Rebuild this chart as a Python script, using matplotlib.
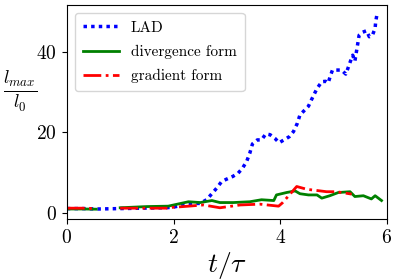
import numpy as np
import matplotlib
matplotlib.use("Agg")
import matplotlib.pyplot as plt

plt.rcParams['font.family'] = 'serif'
plt.rcParams['font.serif'] = ['cmr10']
plt.rcParams['mathtext.fontset'] = 'cm'
plt.rcParams['axes.formatter.use_mathtext'] = True

nan = np.nan
lad_t = [0.0, 0.3, 0.6, 1.0, 1.4, 1.8, 1.98, 2.28, 2.5, 2.62, 2.81, 2.90, 2.99, 3.11, 3.21,
         3.29, 3.37, 3.43, 3.48, 3.57, 3.65, 3.73, 3.81, 3.90, 3.98, 4.07, 4.17, 4.25,
         4.32, 4.37, 4.53, 4.59, 4.69, 4.78, 4.85, 4.90, 4.94, 4.98, 5.06, 5.15, 5.23,
         5.28, 5.32, 5.36, 5.40, 5.44, 5.48, 5.54, 5.62, 5.67, 5.73, 5.78, 5.79, 5.81]
lad_v = [1.0, 1.0, 0.9, 1.0, 1.1, 1.2, 1.3, 2.2, 2.3, 3.2, 6.1, 7.7, 8.3, 9.0, 9.8,
         11.0, 12.7, 14.8, 17.1, 18.1, 18.1, 19.6, 19.4, 18.5, 17.4, 18.1, 18.9, 20.2,
         22.2, 24.3, 26.5, 28.2, 30.9, 32.6, 32.7, 32.3, 34.0, 35.5, 35.5, 35.5, 34.5,
         36.3, 37.8, 39.2, 37.7, 40.9, 44.2, 44.9, 45.3, 43.8, 44.2, 45.9, 47.5, 49.0]

div_t = [0.0, 0.3, 0.55, 0.56, 1.0, 1.5, 1.9, 2.28, 2.5, 2.72, 2.87, 3.12, 3.43, 3.65,
         3.88, 3.93, 4.12, 4.28, 4.37, 4.53, 4.69, 4.78, 4.93, 5.09, 5.31, 5.40, 5.56,
         5.71, 5.78, 5.90]
div_v = [0.9, 0.9, 0.85, nan, 1.2, 1.5, 1.6, 2.7, 2.5, 3.0, 2.5, 2.5, 2.7, 3.2,
         3.0, 4.4, 5.0, 5.4, 4.7, 4.4, 4.4, 3.6, 4.2, 5.0, 5.2, 4.0, 4.2,
         3.4, 4.2, 3.0]

grad_t = [0.0, 0.3, 0.55, 0.56, 1.0, 1.5, 1.9, 1.98, 2.28, 2.56, 2.87, 3.25, 3.62, 3.97,
          4.04, 4.31, 4.50, 4.69, 4.87, 5.06, 5.34]
grad_v = [1.1, 1.1, 1.0, nan, 1.1, 1.1, 1.1, 1.3, 1.6, 1.9, 1.2, 1.9, 2.1, 1.6,
          2.4, 6.5, 5.8, 5.5, 5.2, 5.2, 4.6]

fig = plt.figure(figsize=(3.98, 2.79), dpi=100)
ax = fig.add_axes([0.168, 0.215, 0.804, 0.767])
ax.plot(lad_t, lad_v, color='blue', linestyle=(0, (1, 1.2)), linewidth=2.5, label='LAD')
ax.plot(div_t, div_v, color='green', linestyle='-', linewidth=2, label='divergence form')
ax.plot(grad_t, grad_v, color='red', linestyle='-.', linewidth=2, label='gradient form')
ax.set_xlim(0, 6)
ax.set_ylim(-1.6, 51.7)
ax.set_xticks([0, 2, 4, 6])
ax.set_yticks([0, 20, 40])
ax.tick_params(labelsize=14)
ax.set_xlabel(r'$t/\tau$', fontsize=20, labelpad=2)
ax.set_ylabel(r'$\frac{l_{max}}{l_0}$', fontsize=19, rotation=0, va='center', ha='center')
ax.yaxis.set_label_coords(-0.147, 0.60)
ax.legend(loc='upper left', fontsize=11, handlelength=2.35, handletextpad=0.8,
          labelspacing=0.65, borderpad=0.5, borderaxespad=0.55)
fig.savefig('out.png', dpi=100)
